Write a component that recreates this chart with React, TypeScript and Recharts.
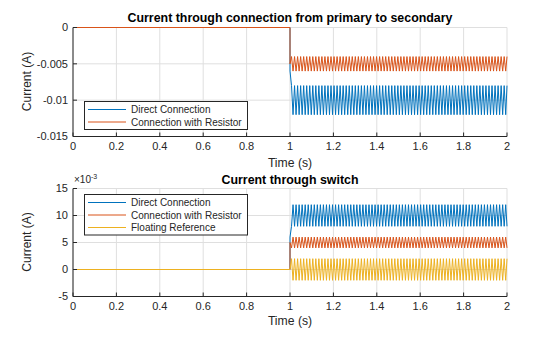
import { LineChart, Line, XAxis, YAxis, CartesianGrid } from "recharts";

// shared time base (s): rest until the switch closes at 1 s, then samples at each half period
const time = [
  0, 1,
  1.000, 1.007, 1.014, 1.021, 1.028, 1.035, 1.042, 1.049, 1.056, 1.063, 1.070, 1.077, 1.084, 1.091, 1.098, 1.105, 1.112, 1.119, 1.126, 1.133,
  1.140, 1.147, 1.154, 1.161, 1.168, 1.175, 1.182, 1.189, 1.196, 1.203, 1.210, 1.217, 1.224, 1.231, 1.238, 1.245, 1.252, 1.259, 1.266, 1.273,
  1.280, 1.287, 1.294, 1.301, 1.308, 1.315, 1.322, 1.329, 1.336, 1.343, 1.350, 1.357, 1.364, 1.371, 1.378, 1.385, 1.392, 1.399, 1.406, 1.413,
  1.420, 1.427, 1.434, 1.441, 1.448, 1.455, 1.462, 1.469, 1.476, 1.483, 1.490, 1.497, 1.504, 1.511, 1.518, 1.525, 1.532, 1.539, 1.546, 1.553,
  1.560, 1.567, 1.574, 1.581, 1.588, 1.595, 1.602, 1.609, 1.616, 1.623, 1.630, 1.637, 1.644, 1.651, 1.658, 1.665, 1.672, 1.679, 1.686, 1.693,
  1.700, 1.707, 1.714, 1.721, 1.728, 1.735, 1.742, 1.749, 1.756, 1.763, 1.770, 1.777, 1.784, 1.791, 1.798, 1.805, 1.812, 1.819, 1.826, 1.833,
  1.840, 1.847, 1.854, 1.861, 1.868, 1.875, 1.882, 1.889, 1.896, 1.903, 1.910, 1.917, 1.924, 1.931, 1.938, 1.945, 1.952, 1.959, 1.966, 1.973,
  1.980, 1.987, 1.994, 2.000,
];

// currents in mA
const topDirect = [
  0, 0,
  -6, -8, -12, -8, -12, -8, -12, -8, -12, -8, -12, -8, -12, -8, -12, -8, -12, -8, -12, -8,
  -12, -8, -12, -8, -12, -8, -12, -8, -12, -8, -12, -8, -12, -8, -12, -8, -12, -8, -12, -8,
  -12, -8, -12, -8, -12, -8, -12, -8, -12, -8, -12, -8, -12, -8, -12, -8, -12, -8, -12, -8,
  -12, -8, -12, -8, -12, -8, -12, -8, -12, -8, -12, -8, -12, -8, -12, -8, -12, -8, -12, -8,
  -12, -8, -12, -8, -12, -8, -12, -8, -12, -8, -12, -8, -12, -8, -12, -8, -12, -8, -12, -8,
  -12, -8, -12, -8, -12, -8, -12, -8, -12, -8, -12, -8, -12, -8, -12, -8, -12, -8, -12, -8,
  -12, -8, -12, -8, -12, -8, -12, -8, -12, -8, -12, -8, -12, -8, -12, -8, -12, -8, -12, -8,
  -12, -8, -12, -8,
];
const topResistor = [
  0, 0,
  -5, -4, -6, -4, -6, -4, -6, -4, -6, -4, -6, -4, -6, -4, -6, -4, -6, -4, -6, -4,
  -6, -4, -6, -4, -6, -4, -6, -4, -6, -4, -6, -4, -6, -4, -6, -4, -6, -4, -6, -4,
  -6, -4, -6, -4, -6, -4, -6, -4, -6, -4, -6, -4, -6, -4, -6, -4, -6, -4, -6, -4,
  -6, -4, -6, -4, -6, -4, -6, -4, -6, -4, -6, -4, -6, -4, -6, -4, -6, -4, -6, -4,
  -6, -4, -6, -4, -6, -4, -6, -4, -6, -4, -6, -4, -6, -4, -6, -4, -6, -4, -6, -4,
  -6, -4, -6, -4, -6, -4, -6, -4, -6, -4, -6, -4, -6, -4, -6, -4, -6, -4, -6, -4,
  -6, -4, -6, -4, -6, -4, -6, -4, -6, -4, -6, -4, -6, -4, -6, -4, -6, -4, -6, -4,
  -6, -4, -6, -4,
];
const swDirect = [
  0, 0,
  6, 8, 12, 8, 12, 8, 12, 8, 12, 8, 12, 8, 12, 8, 12, 8, 12, 8, 12, 8,
  12, 8, 12, 8, 12, 8, 12, 8, 12, 8, 12, 8, 12, 8, 12, 8, 12, 8, 12, 8,
  12, 8, 12, 8, 12, 8, 12, 8, 12, 8, 12, 8, 12, 8, 12, 8, 12, 8, 12, 8,
  12, 8, 12, 8, 12, 8, 12, 8, 12, 8, 12, 8, 12, 8, 12, 8, 12, 8, 12, 8,
  12, 8, 12, 8, 12, 8, 12, 8, 12, 8, 12, 8, 12, 8, 12, 8, 12, 8, 12, 8,
  12, 8, 12, 8, 12, 8, 12, 8, 12, 8, 12, 8, 12, 8, 12, 8, 12, 8, 12, 8,
  12, 8, 12, 8, 12, 8, 12, 8, 12, 8, 12, 8, 12, 8, 12, 8, 12, 8, 12, 8,
  12, 8, 12, 8,
];
const swResistor = [
  0, 0,
  5, 4, 6, 4, 6, 4, 6, 4, 6, 4, 6, 4, 6, 4, 6, 4, 6, 4, 6, 4,
  6, 4, 6, 4, 6, 4, 6, 4, 6, 4, 6, 4, 6, 4, 6, 4, 6, 4, 6, 4,
  6, 4, 6, 4, 6, 4, 6, 4, 6, 4, 6, 4, 6, 4, 6, 4, 6, 4, 6, 4,
  6, 4, 6, 4, 6, 4, 6, 4, 6, 4, 6, 4, 6, 4, 6, 4, 6, 4, 6, 4,
  6, 4, 6, 4, 6, 4, 6, 4, 6, 4, 6, 4, 6, 4, 6, 4, 6, 4, 6, 4,
  6, 4, 6, 4, 6, 4, 6, 4, 6, 4, 6, 4, 6, 4, 6, 4, 6, 4, 6, 4,
  6, 4, 6, 4, 6, 4, 6, 4, 6, 4, 6, 4, 6, 4, 6, 4, 6, 4, 6, 4,
  6, 4, 6, 4,
];
const swFloating = [
  0, 0,
  0, 2, -2, 2, -2, 2, -2, 2, -2, 2, -2, 2, -2, 2, -2, 2, -2, 2, -2, 2,
  -2, 2, -2, 2, -2, 2, -2, 2, -2, 2, -2, 2, -2, 2, -2, 2, -2, 2, -2, 2,
  -2, 2, -2, 2, -2, 2, -2, 2, -2, 2, -2, 2, -2, 2, -2, 2, -2, 2, -2, 2,
  -2, 2, -2, 2, -2, 2, -2, 2, -2, 2, -2, 2, -2, 2, -2, 2, -2, 2, -2, 2,
  -2, 2, -2, 2, -2, 2, -2, 2, -2, 2, -2, 2, -2, 2, -2, 2, -2, 2, -2, 2,
  -2, 2, -2, 2, -2, 2, -2, 2, -2, 2, -2, 2, -2, 2, -2, 2, -2, 2, -2, 2,
  -2, 2, -2, 2, -2, 2, -2, 2, -2, 2, -2, 2, -2, 2, -2, 2, -2, 2, -2, 2,
  -2, 2, -2, 2,
];

const xTicks = [0, 0.2, 0.4, 0.6, 0.8, 1, 1.2, 1.4, 1.6, 1.8, 2];
const topTicks = [-15, -10, -5, 0];
const swTicks = [-5, 0, 5, 10, 15];

const topTitle = "Current through connection from primary to secondary";
const swTitle = "Current through switch";
const topLegend = ["Direct Connection", "Connection with Resistor"];
const swLegend = ["Direct Connection", "Connection with Resistor", "Floating Reference"];

const BLUE = "#0072BD";
const ORANGE = "#D95319";
const YELLOW = "#EDB120";
const AXIS = "#262626";
const GRID = "#DFDFDF";
const FONT = '"Liberation Sans", Arial, Helvetica, sans-serif';

const topRows = time.map((t, i) => ({ t, direct: topDirect[i], resistor: topResistor[i] }));
const swRows = time.map((t, i) => ({
  t,
  direct: swDirect[i],
  resistor: swResistor[i],
  floating: swFloating[i],
}));

const tickStyle = { fontSize: 11, fill: AXIS, fontFamily: FONT };
const blank = () => "";

function Legend({ x, y, labels, colors }: { x: number; y: number; labels: string[]; colors: string[] }) {
  const rowH = 12.5;
  const h = labels.length * rowH + 3;
  return (
    <g>
      <rect x={x + 0.5} y={y + 0.5} width={163} height={h} fill="#fff" stroke={AXIS} strokeWidth={1} />
      {labels.map((l, i) => {
        const cy = y + 8.5 + i * rowH;
        return (
          <g key={l}>
            <line x1={x + 4} x2={x + 42} y1={cy} y2={cy} stroke={colors[i]} strokeWidth={1} />
            <text x={x + 47} y={cy} dy="0.35em" fontSize={10} fill={AXIS} fontFamily={FONT}>
              {l}
            </text>
          </g>
        );
      })}
    </g>
  );
}

const lineProps = { type: "linear" as const, strokeWidth: 1, dot: false, activeDot: false, isAnimationActive: false };

export default function App() {
  return (
    <div style={{ position: "absolute", left: 0, top: 0, width: 560, height: 337, background: "#fff" }}>
      <div style={{ position: "absolute", left: 0, top: 0 }}>
        <LineChart width={560} height={168} data={topRows} margin={{ top: 27.5, right: 53, bottom: 1.5, left: 0 }}>
          <CartesianGrid stroke={GRID} />
          <XAxis
            dataKey="t"
            type="number"
            domain={[0, 2]}
            ticks={xTicks}
            interval={0}
            height={30}
            tickSize={-4}
            tickMargin={10}
            tick={tickStyle}
            axisLine={{ stroke: AXIS }}
            tickLine={{ stroke: AXIS }}
          />
          <XAxis xAxisId="top" orientation="top" dataKey="t" type="number" domain={[0, 2]} ticks={xTicks} interval={0} height={0} tickSize={-4} tickFormatter={blank} axisLine={{ stroke: AXIS }} tickLine={{ stroke: AXIS }} />
          <YAxis
            type="number"
            domain={[-15, 0]}
            ticks={topTicks}
            interval={0}
            width={73}
            tickSize={-4}
            tickMargin={9}
            tick={tickStyle}
            tickFormatter={(v: number) => String(v / 1000)}
            axisLine={{ stroke: AXIS }}
            tickLine={{ stroke: AXIS }}
          />
          <YAxis yAxisId="right" orientation="right" type="number" domain={[-15, 0]} ticks={topTicks} interval={0} width={0} tickSize={-4} tickFormatter={blank} axisLine={{ stroke: AXIS }} tickLine={{ stroke: AXIS }} />
          <Line {...lineProps} dataKey="direct" stroke={BLUE} />
          <Line {...lineProps} dataKey="resistor" stroke={ORANGE} />
        </LineChart>
      </div>
      <div style={{ position: "absolute", left: 0, top: 168 }}>
        <LineChart width={560} height={169} data={swRows} margin={{ top: 20.5, right: 53, bottom: 10.5, left: 0 }}>
          <CartesianGrid stroke={GRID} />
          <XAxis
            dataKey="t"
            type="number"
            domain={[0, 2]}
            ticks={xTicks}
            interval={0}
            height={30}
            tickSize={-4}
            tickMargin={10}
            tick={tickStyle}
            axisLine={{ stroke: AXIS }}
            tickLine={{ stroke: AXIS }}
          />
          <XAxis xAxisId="top" orientation="top" dataKey="t" type="number" domain={[0, 2]} ticks={xTicks} interval={0} height={0} tickSize={-4} tickFormatter={blank} axisLine={{ stroke: AXIS }} tickLine={{ stroke: AXIS }} />
          <YAxis
            type="number"
            domain={[-5, 15]}
            ticks={swTicks}
            interval={0}
            width={73}
            tickSize={-4}
            tickMargin={9}
            tick={tickStyle}
            axisLine={{ stroke: AXIS }}
            tickLine={{ stroke: AXIS }}
          />
          <YAxis yAxisId="right" orientation="right" type="number" domain={[-5, 15]} ticks={swTicks} interval={0} width={0} tickSize={-4} tickFormatter={blank} axisLine={{ stroke: AXIS }} tickLine={{ stroke: AXIS }} />
          <Line {...lineProps} dataKey="direct" stroke={BLUE} />
          <Line {...lineProps} dataKey="resistor" stroke={ORANGE} />
          <Line {...lineProps} dataKey="floating" stroke={YELLOW} />
        </LineChart>
      </div>
      <svg width={560} height={337} style={{ position: "absolute", left: 0, top: 0, pointerEvents: "none" }}>
        <text x={290} y={18} dy="0.35em" textAnchor="middle" fontSize={12.4} fontWeight="bold" fill="#000" fontFamily={FONT}>
          {topTitle}
        </text>
        <text x={290} y={180} dy="0.35em" textAnchor="middle" fontSize={12.4} fontWeight="bold" fill="#000" fontFamily={FONT}>
          {swTitle}
        </text>
        <text x={74} y={183} fontSize={10} fill={AXIS} fontFamily={FONT}>
          ×10<tspan dy={-4} fontSize={7}>-3</tspan>
        </text>
        <text x={290} y={162.5} dy="0.35em" textAnchor="middle" fontSize={12.2} fill={AXIS} fontFamily={FONT}>
          Time (s)
        </text>
        <text x={290} y={321} dy="0.35em" textAnchor="middle" fontSize={12.2} fill={AXIS} fontFamily={FONT}>
          Time (s)
        </text>
        <text x={27} y={81.5} dy="0.35em" textAnchor="middle" fontSize={12} fill={AXIS} fontFamily={FONT} transform="rotate(-90 27 81.5)">
          Current (A)
        </text>
        <text x={27} y={242} dy="0.35em" textAnchor="middle" fontSize={12} fill={AXIS} fontFamily={FONT} transform="rotate(-90 27 242)">
          Current (A)
        </text>
        <Legend x={84} y={101} labels={topLegend} colors={[BLUE, ORANGE]} />
        <Legend x={84} y={194} labels={swLegend} colors={[BLUE, ORANGE, YELLOW]} />
      </svg>
    </div>
  );
}
